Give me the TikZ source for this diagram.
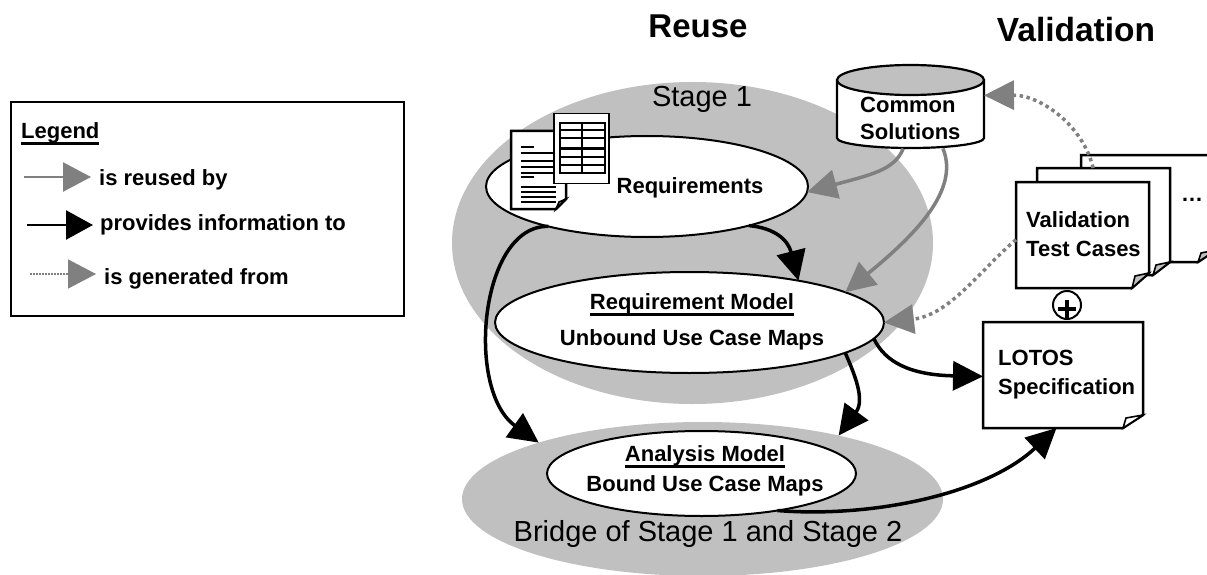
\documentclass[tikz,border=0pt]{standalone}
\usepackage{fontspec}
\setmainfont{Liberation Sans}
\usetikzlibrary{arrows.meta,shapes.geometric}
\definecolor{stagegray}{HTML}{C0C0C0}
\definecolor{arrowgray}{HTML}{808080}
\newcommand{\lbl}{\fontsize{22}{27}\selectfont\bfseries}
\newcommand{\lblc}{\fontsize{22}{27}\selectfont\bfseries}
\newcommand{\lblv}{\fontsize{22}{28.5}\selectfont\bfseries}
\newcommand{\lbll}{\fontsize{22}{29}\selectfont\bfseries}
\newcommand{\thickul}[1]{\setbox0\hbox{#1}\rlap{\rule[-6pt]{\wd0}{2.5pt}}\box0}
\tikzset{
  stage/.style={ellipse,fill=stagegray,inner sep=0pt,outer sep=0pt},
  model/.style={ellipse,draw=black,fill=white,line width=2pt,inner sep=0pt,outer sep=0pt,align=center,font=\lbl},
  flat/.style={draw=none,inner sep=0pt,align=left,font=\lbl,anchor=west},
  usedby/.style={draw=arrowgray,line width=3.5pt,-{Triangle[length=30pt,width=29pt,fill=arrowgray]}},
  info/.style={draw=black,line width=3.5pt,-{Triangle[length=30pt,width=29pt,fill=black]}},
  genfrom/.style={draw=arrowgray,line width=3.5pt,dash pattern=on 3.5pt off 3.5pt,-{Triangle[length=30pt,width=29pt,fill=arrowgray,sep=0pt]}},
  pageline/.style={draw=black,line width=2.5pt,fill=white,line join=miter},
  frameonly/.style={draw=none,rectangle,inner sep=0pt,outer sep=0pt,anchor=north west},
}
% name, x0,y0,x1,y1, foldx, foldy, fold colour
\newcommand{\docpage}[8]{%
  \path[pageline] (#2,#3) -- (#4,#3) -- (#4,#5-#7) -- (#4-#6,#5) -- (#2,#5) -- cycle;
  \path[draw=black,line width=1.6pt,fill=#8] (#4-#6,#5) -- (#4-#6+3,#5-#7+3) -- (#4,#5-#7) -- cycle;
  \node[inner sep=0pt,outer sep=0pt,minimum width={(#4-#2)*1pt},minimum height={(#5-#3)*1pt}] (#1) at ({(#2+#4)/2},{(#3+#5)/2}) {};
}
\begin{document}
\begin{tikzpicture}[x=1pt,y=-1pt]
\useasboundingbox (0,0) rectangle (1207,575);
\node[stage,minimum width=481pt,minimum height=322pt] (stageone) at (692.5,243) {};
\node[stage,minimum width=481pt,minimum height=154pt] (bridge) at (702.5,499) {};
\node[font=\fontsize{29}{34}\selectfont,anchor=center] (stageonelbl) at (702,99) {Stage 1};
\node[font=\fontsize{29}{34}\selectfont,anchor=center] (bridgelbl) at (708,534) {Bridge of Stage 1 and Stage 2};
\node[font=\fontsize{33}{38}\selectfont\bfseries] (reuse) at (698,26) {Reuse};
\node[font=\fontsize{33.5}{38}\selectfont\bfseries] (validation) at (1076,30) {Validation};

% Legend
\node[frameonly,draw=black,line width=2.5pt,minimum width=393pt,minimum height=214pt] (legend) at (11,102) {};
\node[flat] (legendtitle) at (21,134) {\thickul{Legend}};
\node[flat] (lgreused) at (99,180) {is reused by};
\node[flat] (lginfo) at (100,225) {provides information to};
\node[flat] (lggen) at (104,279) {is generated from};
\coordinate (la) at (24,177);
\coordinate (lb) at (27,225);
\coordinate (lc) at (30,274);
\draw[arrowgray,line width=2.5pt,shorten >=8pt,-{Triangle[length=28pt,width=29pt,fill=arrowgray]}] (la) -- (lgreused.west |- la);
\draw[black,line width=2.5pt,shorten >=7pt,-{Triangle[length=27pt,width=29pt,fill=black]}] (lb) -- (lginfo.west |- lb);
\draw[arrowgray,line width=1.5pt,dash pattern=on 1.5pt off 1.5pt,shorten >=8pt,-{Triangle[length=28pt,width=29pt,fill=arrowgray]}] (lc) -- (lggen.west |- lc);

% Ellipses
\node[model,minimum width=322pt,minimum height=101pt] (req) at (647,186.5) {};
\node[model,minimum width=389pt,minimum height=101pt] (reqmodel) at (689.5,322.5) {};
\node[model,minimum width=309pt,minimum height=85pt] (analysis) at (701.5,473.5) {};
\node[flat,anchor=center] (reqlbl) at (690,187.5) {Requirements};
\node[flat,anchor=center] (reqmodel1) at (692,305) {\thickul{Requirement Model}};
\node[flat,anchor=center] (reqmodel2) at (692,340) {Unbound Use Case Maps};
\node[flat,anchor=center] (an1) at (705,457) {\thickul{Analysis Model}};
\node[flat,anchor=center] (an2) at (705,486) {Bound Use Case Maps};

% Requirements documents
\docpage{reqdoc}{511}{131}{566}{209}{10}{10}{arrowgray}
\foreach \yy/\xe in {147/534,153/558,161/558,167/558,173/558,177/534,187/556,192/556,197/556,202/556}
  \draw[black,line width=1.4pt] (521,\yy) -- (\xe,\yy);
\node[draw=black,fill=white,line width=1.8pt,rectangle,inner sep=0pt,outer sep=0pt,minimum width=55pt,minimum height=70pt] (reqtable) at (581.5,148.5) {};
\draw[black,line width=1.4pt,fill=white] (560,123) rectangle (605,173);
\draw[black,line width=1.4pt] (582,123) -- (582,173);
\foreach \yy in {130,138,148,149,157,165}
  \draw[black,line width=1.4pt] (560,\yy) -- (605,\yy);

% Common solutions database
\path[draw=black,line width=2.2pt,fill=white] (837,80) -- (837,138) arc[start angle=180,end angle=360,x radius=73.5pt,y radius=10pt] -- (984,80) -- cycle;
\path[draw=black,line width=2.2pt,fill=stagegray] (910.5,80) ellipse[x radius=73.5pt,y radius=15pt];
\node[inner sep=0pt,outer sep=0pt,minimum width=147pt,minimum height=83pt] (common) at (910.5,107) {};
\node[flat,align=left,font=\lblc] (commonlbl) at (860,118) {Common\\Solutions};

% Validation stack
\docpage{val3}{1081}{155}{1216}{262}{18}{12}{stagegray}
\docpage{val2}{1037}{168}{1170}{275}{17}{13}{stagegray}
\docpage{val1}{1016}{182}{1149}{288}{17}{15}{stagegray}
\node[flat,anchor=center] (dots) at (1192,200) {\ldots};
\node[flat,align=left,font=\lblv] (vallbl) at (1026,234) {Validation\\Test Cases};

% Composition mark
\node[circle,draw=black,fill=white,line width=2pt,minimum size=28pt,inner sep=0pt] (plus) at (1067,305) {};
\draw[black,line width=4pt] (1058,309) -- (1076,309) (1067,300) -- (1067,318);

% LOTOS
\docpage{lotos}{983}{322}{1143}{428}{20}{13}{white}
\node[flat,align=left,font=\lbll] (lotoslbl) at (998,375) {LOTOS\\Specification};

% Connectors
\draw[usedby] (common.260) .. controls (895,170) and (870,175) .. (req.-2);
\draw[usedby] (common.308) .. controls (960,190) and (915,235) .. (reqmodel.11);
\draw[genfrom] (val2.101) .. controls (1083,125) and (1040,95) .. (common.9);
\draw[genfrom] (val1.184) .. controls (980,270) and (950,315) .. (reqmodel.east);
\draw[info] (req.-21) .. controls (775,228) and (788,240) .. (reqmodel.21);
\draw[info] (reqmodel.-5) .. controls (885,362) and (910,375) .. (lotos.181);
\draw[info] (reqmodel.-11) .. controls (855,375) and (865,400) .. (bridge.25);
\draw[info] (req.202.5) .. controls (480,225) and (465,390) .. (bridge.161);
\draw[info] (analysis.-26) .. controls (870,518) and (985,495) .. (lotos.263.5);
\end{tikzpicture}
\end{document}
